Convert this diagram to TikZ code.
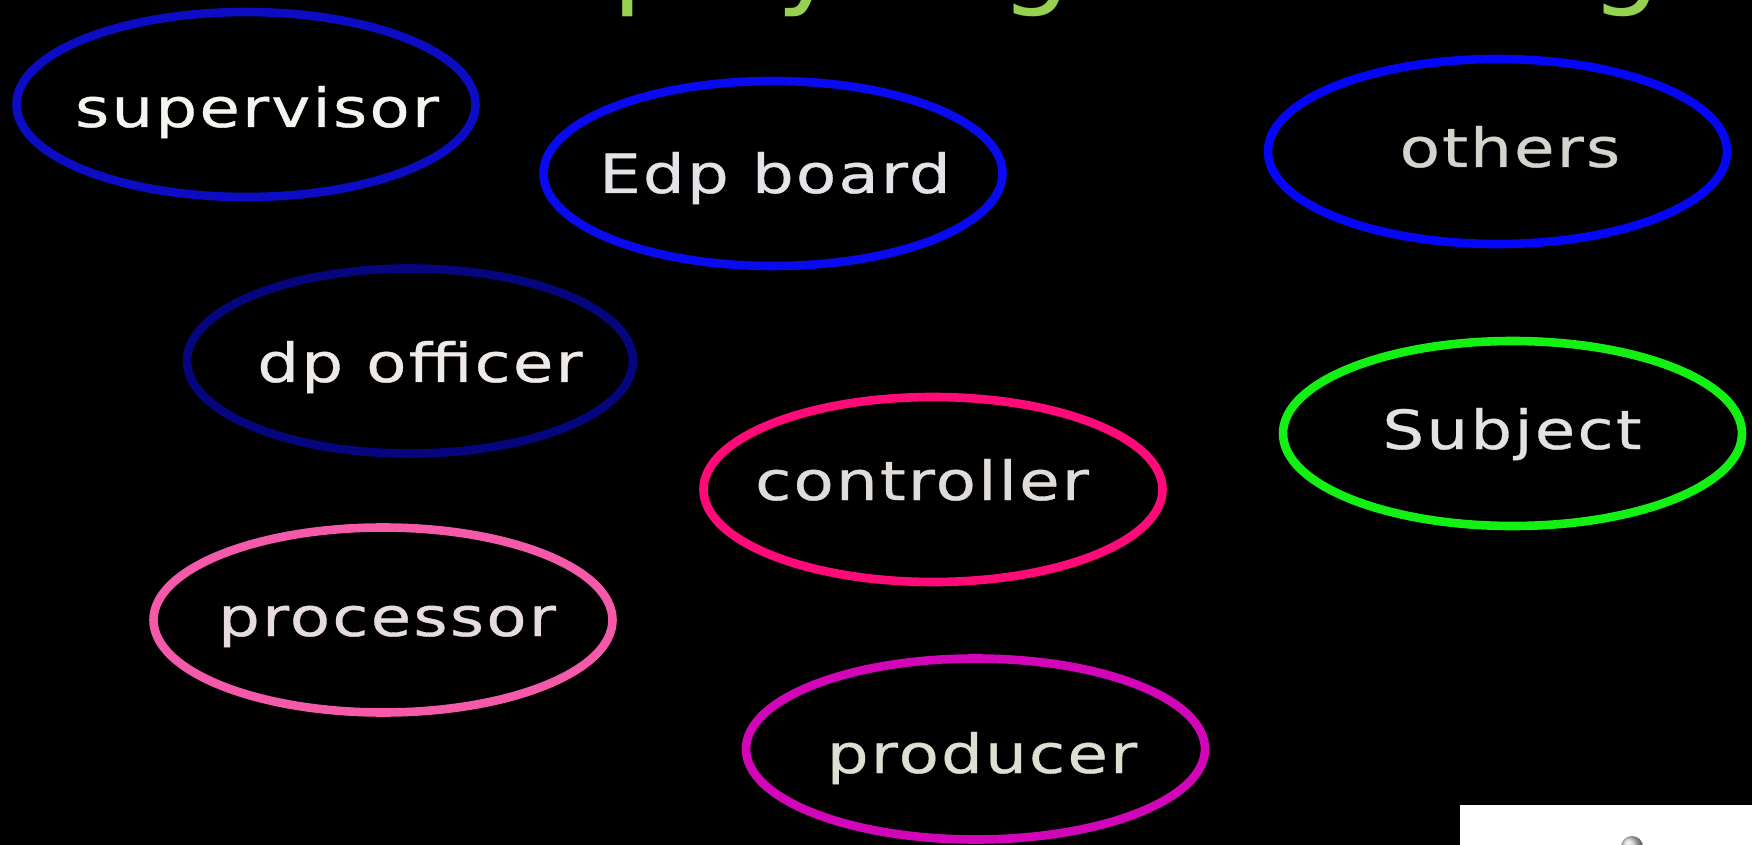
\documentclass[tikz,border=0pt]{standalone}
\usepackage{fontspec}
\usetikzlibrary{shapes.geometric}
\newfontfamily\rolefont[FakeStretch=1.22,LetterSpace=4,FakeBold=0.6]{DejaVu Sans}
\newfontfamily\headfont{DejaVu Sans}

\definecolor{bgblack}{HTML}{000000}
\definecolor{headgreen}{HTML}{96D250}
\definecolor{supblue}{HTML}{0C0CC4}
\definecolor{edpblue}{HTML}{0A0AF0}
\definecolor{othblue}{HTML}{0505FA}
\definecolor{dpoblue}{HTML}{05057D}
\definecolor{ctlpink}{HTML}{FF0A78}
\definecolor{subgreen}{HTML}{14F014}
\definecolor{propink}{HTML}{F55AAA}
\definecolor{prdmagenta}{HTML}{D205B9}
\definecolor{suptext}{HTML}{F4F4F0}
\definecolor{edptext}{HTML}{E4E4E8}
\definecolor{othtext}{HTML}{D4D4CE}
\definecolor{dpotext}{HTML}{EEEAE8}
\definecolor{ctltext}{HTML}{E0DCDA}
\definecolor{subtext}{HTML}{E2E2E4}
\definecolor{protext}{HTML}{E6DCE0}
\definecolor{prdtext}{HTML}{DCE0D0}

\tikzset{
  role/.style={ellipse, draw=#1, line width=4.3pt, inner sep=0pt,
    minimum width=229.5pt, minimum height=92.5pt},
  rolelabel/.style={anchor=base, inner sep=0pt, text=#1,
    font=\rolefont\fontsize{27pt}{30pt}\selectfont},
  headglyph/.style={anchor=base west, inner sep=0pt, text=headgreen,
    font=\headfont\fontsize{56pt}{62pt}\selectfont},
}

\begin{document}
\begin{tikzpicture}[x=0.5pt,y=-0.5pt]
  % page frame and background
  \fill[bgblack] (0,0) rectangle (1752,845);
  \useasboundingbox (0,0) rectangle (1752,845);

  % descenders of the heading line above the frame
  \node[headglyph] (h1) at (612,-6) {p};
  \node[headglyph] (h2) at (776,-6) {y};
  \node[headglyph] (h3) at (1000,-6) {g};
  \node[headglyph] (h4) at (1590,-6) {g};

  % role ellipses
  \node[role=supblue]    (sup) at (246,104.5) {};
  \node[role=edpblue]    (edp) at (773,173.5) {};
  \node[role=othblue]    (oth) at (1497.5,151.5) {};
  \node[role=dpoblue, minimum width=223pt] (dpo) at (410,361) {};
  \node[role=ctlpink]    (ctl) at (933,489.5) {};
  \node[role=subgreen]   (sub) at (1512.5,433.5) {};
  \node[role=propink]    (pro) at (383,620) {};
  \node[role=prdmagenta, minimum height=90.5pt] (prd) at (975.5,749) {};

  % role names
  \node[rolelabel=suptext] (supt) at (257,127) {supervisor};
  \node[rolelabel=edptext] (edpt) at (775,193) {Edp board};
  \node[rolelabel=othtext] (otht) at (1510,167) {others};
  \node[rolelabel=dpotext] (dpot) at (420,382) {dp officer};
  \node[rolelabel=ctltext] (ctlt) at (922,500) {controller};
  \node[rolelabel=subtext] (subt) at (1512,449) {Subject};
  \node[rolelabel=protext] (prot) at (387,636) {processor};
  \node[rolelabel=prdtext] (prdt) at (982,773) {producer};

  % corner panel with a small grey knob
  \fill[white] (1460,805) rectangle (1752,845);
  \shade[ball color=gray!40] (1632,847) circle[radius=11];
\end{tikzpicture}
\end{document}
